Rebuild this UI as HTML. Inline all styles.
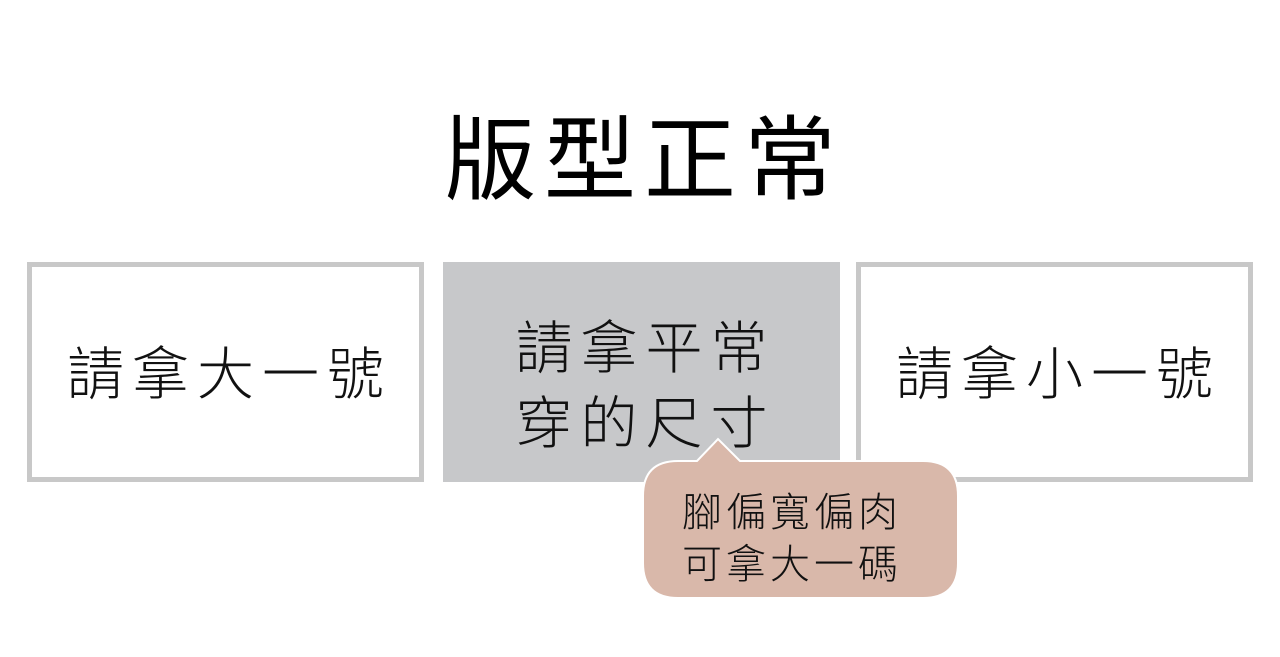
<!DOCTYPE html>
<html><head><meta charset="utf-8"><style>
body{margin:0;width:1280px;height:657px;background:#fff;position:relative;overflow:hidden;font-family:"Liberation Sans","Noto Sans CJK TC",sans-serif;}
.t{position:absolute;left:0;width:1280px;top:106px;text-align:center;font-size:92px;line-height:110px;font-weight:400;color:#000;letter-spacing:8px;padding-left:8px;box-sizing:border-box}
.b{position:absolute;top:262px;height:220px;box-sizing:border-box;display:flex;align-items:center;justify-content:center;text-align:center;font-size:57px;font-weight:300;color:#111;letter-spacing:8px;line-height:75px;padding-left:8px}
.o{border:5px solid #c8c8c8;background:#fff}
.m{background:#c7c8ca}
</style></head><body>
<div class="t">版型正常</div>
<div class="b o" style="left:27px;width:397px;padding-top:6px">請拿大一號</div>
<div class="b m" style="left:443px;width:397px;padding-top:30px">請拿平常<br>穿的尺寸</div>
<div class="b o" style="left:856px;width:397px;padding-top:6px">請拿小一號</div>
<svg style="position:absolute;left:0;top:0" width="1280" height="657">
<path d="M678 461 L697 461 L718 439 L740 461 L923 461 Q958 461 958 496 L958 563 Q958 598 923 598 L678 598 Q643 598 643 563 L643 496 Q643 461 678 461 Z" fill="#d9b8aa" stroke="#fff" stroke-width="2"/>
<text x="792" y="526" text-anchor="middle" font-size="40" font-weight="300" font-family="Liberation Sans, Noto Sans CJK TC, sans-serif" letter-spacing="4" fill="#111">腳偏寬偏肉</text>
<text x="792" y="578" text-anchor="middle" font-size="40" font-weight="300" font-family="Liberation Sans, Noto Sans CJK TC, sans-serif" letter-spacing="4" fill="#111">可拿大一碼</text>
</svg>
</body></html>
